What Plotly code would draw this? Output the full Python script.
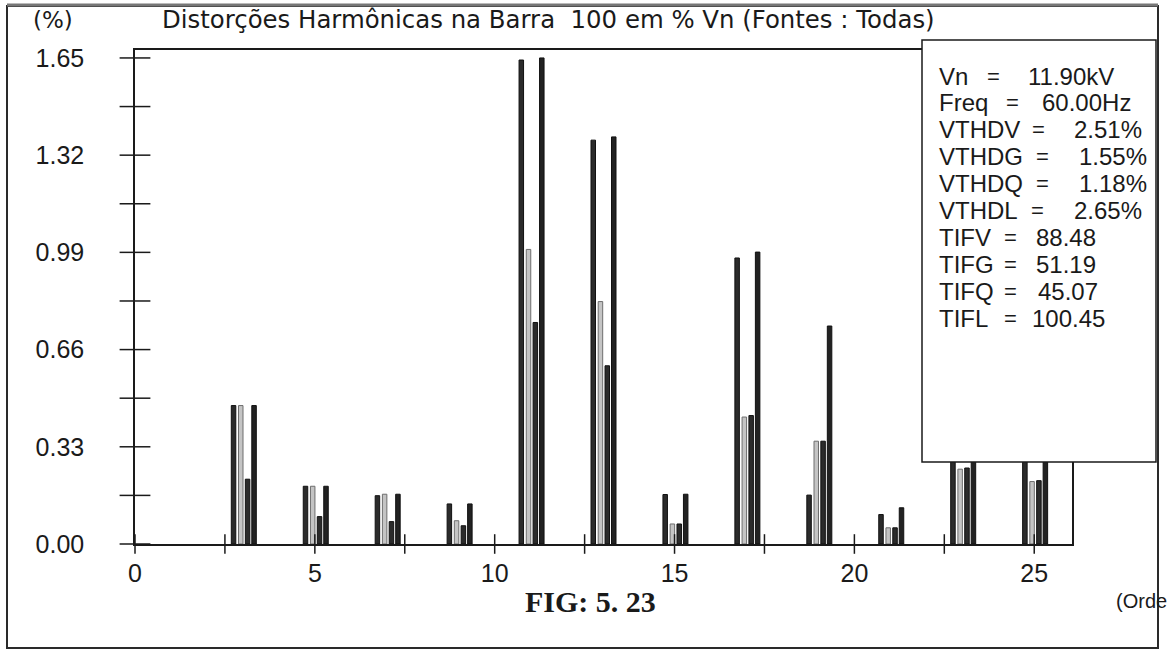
import numpy as np
import plotly.graph_objects as go

# Harmonic orders and per-source distortion (% of Vn)
harmonics = [3, 5, 7, 9, 11, 13, 15, 17, 19, 21, 23, 25]
dist_v = [0.470, 0.196, 0.164, 0.136, 1.643, 1.371, 0.168, 0.971, 0.166, 0.100, 0.450, 0.460]
dist_g = [0.470, 0.196, 0.169, 0.079, 1.000, 0.823, 0.068, 0.431, 0.349, 0.055, 0.254, 0.212]
dist_q = [0.220, 0.093, 0.076, 0.062, 0.752, 0.605, 0.068, 0.436, 0.349, 0.055, 0.258, 0.215]
dist_l = [0.470, 0.196, 0.169, 0.136, 1.650, 1.382, 0.169, 0.991, 0.740, 0.123, 0.500, 0.520]
series_names = ["V", "G", "Q", "L"]

y_tick_vals = [0.00, 0.33, 0.66, 0.99, 1.32, 1.65]
x_tick_vals = [0, 5, 10, 15, 20, 25]

summary_labels = ["Vn", "Freq", "VTHDV", "VTHDG", "VTHDQ", "VTHDL", "TIFV", "TIFG", "TIFQ", "TIFL"]
summary_values = ["11.90kV", "60.00Hz", "2.51%", "1.55%", "1.18%", "2.65%", "88.48", "51.19", "45.07", "100.45"]

title_text = "Distorções Harmônicas na Barra \u00a0100 em % Vn (Fontes : Todas)"

# ---- page geometry (pixels) ----
W, H = 1167, 655
L, R, T, B = 135, 1072, 50, 544


def px(x):
    return (x - L) / (R - L)


def py(y):
    return (B - y) / (B - T)


SANS = "Liberation Sans, Arial, sans-serif"
WIDE = "DejaVu Sans, Verdana, sans-serif"
INK = "#1a1a1a"

bar_offsets = [-0.26, -0.06, 0.13, 0.31]
bar_width = 0.125
bar_fill = ["#2b2b2b", "#c4c4c4", "#2b2b2b", "#222222"]
bar_edge = ["#111111", "#6e6e6e", "#111111", "#111111"]

fig = go.Figure()
for name, vals, off, fc, ec in zip(series_names, [dist_v, dist_g, dist_q, dist_l],
                                   bar_offsets, bar_fill, bar_edge):
    fig.add_trace(go.Bar(
        x=harmonics, y=vals, name=name,
        width=bar_width, offset=off - bar_width / 2,
        marker=dict(color=fc, line=dict(color=ec, width=1)),
        showlegend=False, hoverinfo="x+y+name",
    ))

# axis tick marks that cross the axis lines
x_minor = np.arange(0, 25.01, 2.5)
fig.add_trace(go.Scatter(
    x=x_minor, y=np.zeros_like(x_minor), mode="markers", cliponaxis=False,
    marker=dict(symbol="line-ns", size=14, line=dict(width=1.5, color=INK)),
    showlegend=False, hoverinfo="skip",
))
y_minor = np.arange(0, 1.651, 0.165)
fig.add_trace(go.Scatter(
    x=np.zeros_like(y_minor), y=y_minor, mode="markers", cliponaxis=False,
    marker=dict(symbol="line-ew", size=22, line=dict(width=1.5, color=INK)),
    showlegend=False, hoverinfo="skip",
))

annotations = [
    dict(text="(%)", x=px(31), y=py(20), xanchor="left", yanchor="middle",
         font=dict(family=WIDE, size=23, color=INK)),
    dict(text=title_text, x=px(160), y=py(20), xanchor="left", yanchor="middle",
         font=dict(family=WIDE, size=24.4, color=INK)),
    dict(text="<b>FIG: 5. 23</b>", x=px(590), y=py(601), xanchor="center", yanchor="middle",
         font=dict(family="Liberation Serif, Times New Roman, serif", size=30, color=INK)),
    dict(text="(Orde", x=px(1114), y=py(601), xanchor="left", yanchor="middle",
         font=dict(family=SANS, size=20, color=INK)),
]

# summary block inside the info box
eq_x = [993, 1012, 1038, 1042, 1042, 1037, 1010, 1010, 1010, 1010]
val_x = [1026, 1040, 1072, 1077, 1077, 1072, 1034, 1034, 1036, 1030]
for i, (lab, val) in enumerate(zip(summary_labels, summary_values)):
    yc = 76 + i * 26.9
    annotations.append(dict(text=lab, x=px(937), y=py(yc), xanchor="left", yanchor="middle",
                            font=dict(family=SANS, size=24, color=INK)))
    annotations.append(dict(text="=", x=px(eq_x[i]), y=py(yc), xanchor="center", yanchor="middle",
                            font=dict(family=SANS, size=22, color=INK)))
    annotations.append(dict(text=val, x=px(val_x[i]), y=py(yc), xanchor="left", yanchor="middle",
                            font=dict(family=SANS, size=24, color=INK)))
for a in annotations:
    a.update(xref="paper", yref="paper", showarrow=False)

shapes = [
    # outer frame
    dict(type="rect", xref="paper", yref="paper",
         x0=px(7), x1=px(1158), y0=py(648), y1=py(6),
         line=dict(color="#2a2a2a", width=2), layer="below"),
    dict(type="line", xref="paper", yref="paper",
         x0=px(7), x1=px(1158), y0=py(5), y1=py(5),
         line=dict(color="#777777", width=3), layer="below"),
    # info box covering the upper right of the plot
    dict(type="rect", xref="paper", yref="paper",
         x0=px(922), x1=px(1156), y0=py(462), y1=py(40),
         line=dict(color=INK, width=1.5), fillcolor="white", layer="above"),
]

fig.update_layout(
    width=W, height=H,
    margin=dict(l=L, r=W - R, t=T, b=H - B, pad=0),
    paper_bgcolor="white", plot_bgcolor="white",
    barmode="overlay",
    showlegend=False,
    xaxis=dict(range=[0, 26.05], tickmode="array", tickvals=x_tick_vals,
               ticks="", showgrid=False, zeroline=False,
               showline=True, linecolor=INK, linewidth=1.5, mirror=True,
               tickfont=dict(family=SANS, size=25, color=INK), ticklabelstandoff=6),
    yaxis=dict(range=[0, 1.677], tickmode="array", tickvals=y_tick_vals,
               ticktext=[f"{v:.2f}" for v in y_tick_vals],
               ticks="", showgrid=False, zeroline=False,
               showline=True, linecolor=INK, linewidth=1.5, mirror=True,
               tickfont=dict(family=SANS, size=25, color=INK), ticklabelstandoff=44),
    annotations=annotations,
    shapes=shapes,
)

fig.write_html("out.html")
